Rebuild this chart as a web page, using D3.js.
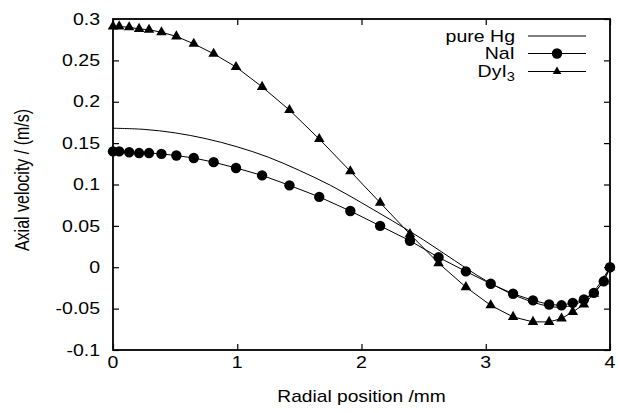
<!DOCTYPE html>
<html><head><meta charset="utf-8">
<script src="https://cdn.jsdelivr.net/npm/d3@7"></script>
<style>body{margin:0;background:#fff}svg{display:block}text{font-family:"Liberation Sans",Arial,Helvetica,sans-serif;fill:#000}</style>
</head><body>
<script>
// ---- data ----
const radialPos = [0, 0.05, 0.13, 0.21, 0.29, 0.39, 0.51, 0.65, 0.81, 0.99, 1.2, 1.42, 1.66, 1.91, 2.15, 2.39, 2.62, 2.84, 3.04, 3.22, 3.38, 3.51, 3.61, 3.70, 3.79, 3.87, 3.95, 4.0];
const naiVel = [0.140, 0.140, 0.139, 0.138, 0.138, 0.137, 0.135, 0.132, 0.127, 0.120, 0.111, 0.099, 0.085, 0.068, 0.050, 0.032, 0.012, -0.005, -0.020, -0.032, -0.040, -0.045, -0.046, -0.043, -0.039, -0.031, -0.017, 0.0];
const dyiVel = [0.291, 0.291, 0.290, 0.288, 0.287, 0.284, 0.279, 0.270, 0.258, 0.242, 0.218, 0.190, 0.155, 0.116, 0.078, 0.040, 0.005, -0.024, -0.046, -0.060, -0.066, -0.066, -0.062, -0.054, -0.045, -0.032, -0.017, 0.0];
const hgPos = [0, 0.25, 0.5, 0.75, 1.0, 1.25, 1.5, 1.75, 2.0, 2.25, 2.5, 2.75, 3.0, 3.25, 3.5, 3.625, 3.75, 3.875, 4.0];
const hgVel = [0.168, 0.1666, 0.1624, 0.1553, 0.1455, 0.133, 0.117, 0.099, 0.078, 0.056, 0.033, 0.008, -0.016, -0.035, -0.047, -0.048, -0.043, -0.028, 0.0];
const xTicks = [0, 1, 2, 3, 4];
const yTicks = [-0.1, -0.05, 0, 0.05, 0.1, 0.15, 0.2, 0.25, 0.3];
const yTickLabels = ["-0.1", "-0.05", "0", "0.05", "0.1", "0.15", "0.2", "0.25", "0.3"];

const W = 618, H = 413;
const L = 113, R = 610, T = 19, B = 350;
const SX = 1.22;   // horizontal stretch of glyphs in the reference
const SXT = 1.2;

const svg = d3.select("body").append("svg").attr("width", W).attr("height", H);
const x = d3.scaleLinear().domain([0, 4]).range([L, R]);
const y = d3.scaleLinear().domain([-0.1, 0.3]).range([B, T]);

function txt(px, py, s, anchor, sx) {
  return svg.append("text").attr("transform", `translate(${px},${py}) scale(${sx || SX},1)`)
    .attr("text-anchor", anchor).attr("font-size", 16).text(s);
}

const tl = 6;
const axB = svg.append("g").attr("transform", `translate(0,${B})`)
  .call(d3.axisBottom(x).tickValues(xTicks).tickSize(-tl).tickFormat(""));
const axT = svg.append("g").attr("transform", `translate(0,${T})`)
  .call(d3.axisTop(x).tickValues(xTicks).tickSize(-tl).tickFormat(""));
const axL = svg.append("g").attr("transform", `translate(${L},0)`)
  .call(d3.axisLeft(y).tickValues(yTicks).tickSize(-tl).tickFormat(""));
const axR = svg.append("g").attr("transform", `translate(${R},0)`)
  .call(d3.axisRight(y).tickValues(yTicks).tickSize(-tl).tickFormat(""));
[axB, axT, axL, axR].forEach(a => { a.select(".domain").remove(); a.selectAll("line").attr("stroke", "#000").attr("stroke-width", 1.2); });

xTicks.forEach(v => txt(x(v), 368, String(v), "middle"));
yTicks.forEach((v, i) => txt(100, y(v) + 5.7, yTickLabels[i], "end"));

txt((L + R) / 2, 402, "Radial position /mm", "middle", SXT);
svg.append("text").attr("transform", `translate(29,180) scale(${SX},1) rotate(-90)`)
  .attr("text-anchor", "middle").attr("font-size", 16).text("Axial velocity / (m/s)");

const hgData = hgPos.map((p, i) => [p, hgVel[i]]);
const naiData = radialPos.map((p, i) => [p, naiVel[i]]);
const dyiData = radialPos.map((p, i) => [p, dyiVel[i]]);

const g = svg.append("g");
g.append("path").datum(hgData).attr("fill", "none").attr("stroke", "#000").attr("stroke-width", 1)
  .attr("d", d3.line().x(d => x(d[0])).y(d => y(d[1])).curve(d3.curveCatmullRom));
const lin = d3.line().x(d => x(d[0])).y(d => y(d[1]));
g.append("path").datum(naiData).attr("fill", "none").attr("stroke", "#000").attr("stroke-width", 1).attr("d", lin);
g.append("path").datum(dyiData).attr("fill", "none").attr("stroke", "#000").attr("stroke-width", 1).attr("d", lin);

const circ = d3.symbol().type(d3.symbolCircle).size(Math.PI * 5.2 * 5.2);
const tri = d3.symbol().type(d3.symbolTriangle).size(48);
g.selectAll(".c").data(naiData).join("path").attr("d", circ)
  .attr("transform", d => `translate(${x(d[0])},${y(d[1])})`).attr("fill", "#000");
g.selectAll(".t").data(dyiData).join("path").attr("d", tri)
  .attr("transform", d => `translate(${x(d[0])},${y(d[1])})`).attr("fill", "#000");

svg.append("rect").attr("x", L).attr("y", T).attr("width", R - L).attr("height", B - T)
  .attr("fill", "none").attr("stroke", "#000").attr("stroke-width", 1.8);

const legRows = [36, 53.5, 71.5];
const lx1 = 528, lx2 = 586, lm = 557;
txt(515, legRows[0] + 5.5, "pure Hg", "end");
txt(515, legRows[1] + 5.5, "NaI", "end");
const dt = svg.append("text").attr("transform", `translate(515,${legRows[2] + 5.5}) scale(${SX},1)`)
  .attr("text-anchor", "end").attr("font-size", 16);
dt.append("tspan").text("DyI");
dt.append("tspan").attr("font-size", 12).attr("dy", 4).text("3");
legRows.forEach(ry => svg.append("line").attr("x1", lx1).attr("x2", lx2).attr("y1", ry).attr("y2", ry)
  .attr("stroke", "#000").attr("stroke-width", 1));
svg.append("path").attr("d", circ).attr("transform", `translate(${lm},${legRows[1]})`).attr("fill", "#000");
svg.append("path").attr("d", d3.symbol().type(d3.symbolTriangle).size(32)).attr("transform", `translate(${lm},${legRows[2]})`).attr("fill", "#000");
</script>
</body></html>
